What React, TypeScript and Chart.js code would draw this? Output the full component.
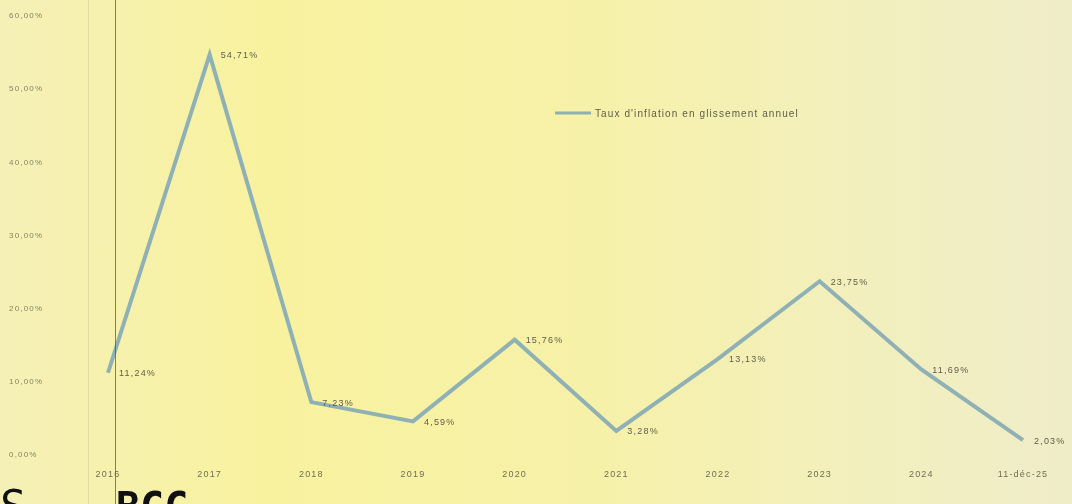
import React, { useEffect, useRef } from "react";
import { Chart, registerables } from "chart.js";

Chart.register(...registerables);

const categories = ["2016", "2017", "2018", "2019", "2020", "2021", "2022", "2023", "2024", "11-déc-25"];
const inflation = [11.24, 54.71, 7.23, 4.59, 15.76, 3.28, 13.13, 23.75, 11.69, 2.03];
const yTickValues = [0, 10, 20, 30, 40, 50, 60];
const seriesLabel = "Taux d'inflation en glissement annuel";
const sourceText = "Source :";
const sourceName = "BCC";

const fmt = (v: number) => v.toFixed(2).replace(".", ",") + "%";

const LINE_COLOR = "#8fb1b5";
const FONT = "'Liberation Sans', Arial, sans-serif";

const spacingPlugin = {
  id: "spacing",
  beforeDraw(chart: any) {
    (chart.ctx as any).letterSpacing = "1.2px";
  },
  afterDraw(chart: any) {
    (chart.ctx as any).letterSpacing = "0px";
  },
};

const labelPlugin = {
  id: "pointLabels",
  afterDatasetsDraw(chart: any) {
    const ctx = chart.ctx;
    const meta = chart.getDatasetMeta(0);
    ctx.save();
    ctx.font = "9px " + FONT;
    (ctx as any).letterSpacing = "1.2px";
    ctx.fillStyle = "#5f5e4a";
    ctx.textBaseline = "middle";
    ctx.textAlign = "left";
    meta.data.forEach((pt: any, i: number) => {
      ctx.fillText(fmt(inflation[i]), pt.x + 11, pt.y + 1);
    });
    ctx.restore();
  },
};

const legendPlugin = {
  id: "customLegend",
  afterDraw(chart: any) {
    const ctx = chart.ctx;
    const x = 555;
    const y = 113;
    ctx.save();
    ctx.strokeStyle = LINE_COLOR;
    ctx.lineWidth = 3;
    ctx.beginPath();
    ctx.moveTo(x, y);
    ctx.lineTo(x + 36, y);
    ctx.stroke();
    ctx.font = "10px " + FONT;
    ctx.fillStyle = "#5f5e4a";
    ctx.textBaseline = "middle";
    ctx.textAlign = "left";
    (ctx as any).letterSpacing = "1.1px";
    ctx.fillText(seriesLabel, x + 40, y + 1);
    ctx.restore();
  },
};

export default function App() {
  const canvasRef = useRef<HTMLCanvasElement | null>(null);

  useEffect(() => {
    if (!canvasRef.current) return;
    const chart = new Chart(canvasRef.current, {
      type: "line",
      data: {
        labels: categories,
        datasets: [
          {
            label: seriesLabel,
            data: inflation,
            borderColor: LINE_COLOR,
            borderWidth: 4,
            pointRadius: 0,
            tension: 0,
            fill: false,
          },
        ],
      },
      options: {
        responsive: false,
        animation: false,
        layout: { padding: { top: 16, right: 49, left: 9, bottom: 0 } },
        plugins: {
          legend: { display: false },
          tooltip: { enabled: false },
        },
        scales: {
          x: {
            grid: { display: false, drawTicks: false },
            border: { display: false },
            ticks: {
              color: "#6f6e58",
              font: { size: 9, family: FONT },
              maxRotation: 0,
              autoSkip: false,
              padding: 14,
            },
            afterFit: (scale: any) => {
              scale.height = 49;
            },
          },
          y: {
            min: 0,
            max: 60,
            afterBuildTicks: (scale: any) => {
              scale.ticks = yTickValues.map((v) => ({ value: v }));
            },
            grid: { display: false, drawTicks: false },
            border: { display: false },
            ticks: {
              color: "#858469",
              font: { size: 8, family: FONT },
              crossAlign: "far",
              padding: 8,
              callback: (v: any) => fmt(Number(v)),
            },
            afterFit: (scale: any) => {
              scale.width = 99;
            },
          },
        },
      },
      plugins: [spacingPlugin, labelPlugin, legendPlugin],
    });
    return () => chart.destroy();
  }, []);

  return (
    <div
      style={{
        position: "fixed",
        left: 0,
        top: 0,
        width: 1072,
        height: 504,
        overflow: "hidden",
        background:
          "linear-gradient(90deg, #f5f0b6 0%, #f8f29f 25%, #f6f1a8 55%, #f2efbd 80%, #efedc8 100%)",
      }}
    >
      <canvas ref={canvasRef} width={1072} height={504} style={{ position: "absolute", left: 0, top: 0 }} />
      <div
        style={{
          position: "absolute",
          left: 115,
          top: 0,
          width: 1,
          height: 504,
          background: "rgba(90,90,70,0.75)",
        }}
      />
      <div
        style={{
          position: "absolute",
          left: 88,
          top: 0,
          width: 1,
          height: 504,
          background: "rgba(160,160,130,0.25)",
        }}
      />
      <div
        style={{
          position: "absolute",
          left: 0,
          top: 482,
          width: 29,
          overflow: "hidden",
          whiteSpace: "nowrap",
          fontFamily: "'DejaVu Sans Mono', monospace",
          fontSize: 44,
          lineHeight: "50px",
          color: "#111",
        }}
      >
        {sourceText}
      </div>
      <div
        style={{
          position: "absolute",
          left: 116,
          top: 482,
          whiteSpace: "nowrap",
          fontFamily: "'DejaVu Sans Mono', monospace",
          fontWeight: "bold",
          fontSize: 40,
          lineHeight: "50px",
          color: "#111",
        }}
      >
        {sourceName}
      </div>
    </div>
  );
}
